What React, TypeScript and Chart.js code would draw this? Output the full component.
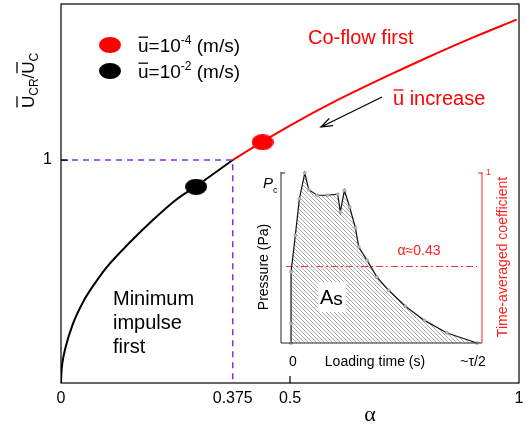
import React, { useEffect, useRef } from 'react';
import { Chart, registerables } from 'chart.js';

Chart.register(...registerables);

const SANS = '"Liberation Sans", Arial, sans-serif';
const SERIF = '"Liberation Serif", "Times New Roman", serif';

// Main chart data (alpha vs normalized critical velocity)
const alphaBlack = [0, 0.001, 0.003, 0.01, 0.025, 0.05, 0.075, 0.1, 0.15, 0.2, 0.25, 0.3, 0.375];
const ucrBlack = [0, 0.05, 0.09, 0.16, 0.26, 0.37, 0.45, 0.52, 0.63, 0.73, 0.82, 0.89, 1.0];
const alphaRed = [0.375, 0.45, 0.5, 0.6, 0.7, 0.8, 0.9, 0.995];
const ucrRed = [1.0, 1.095, 1.155, 1.265, 1.365, 1.46, 1.55, 1.63];
const dashX = [0, 0.375, 0.375];
const dashY = [1, 1, 0];
const markerRed = { x: 0.44, y: 1.08 };
const markerBlack = { x: 0.295, y: 0.88 };
const xTickVals = [0, 0.375, 0.5, 1];
const yTickVals = [1];

// Inset data (normalized loading time vs normalized pressure)
const loadTime = [0, 0, 0, 0.023, 0.045, 0.074, 0.095, 0.14, 0.197, 0.251, 0.265, 0.287, 0.315, 0.346, 0.364, 0.409, 0.462, 0.525, 0.615, 0.717, 0.839, 1.0];
const pressure = [0, 0.114, 0.418, 0.633, 0.849, 1.0, 0.902, 0.869, 0.869, 0.875, 0.771, 0.898, 0.8, 0.678, 0.565, 0.486, 0.388, 0.31, 0.216, 0.133, 0.059, 0];
const coefLineX = [-0.027, 1.0];
const coefLineY = [0.45, 0.45];

type Part = { t: string; size: number; dy?: number; over?: number; italic?: boolean; family?: string };

function drawRich(ctx: CanvasRenderingContext2D, x: number, y: number, parts: Part[], color: string) {
  let cx = x;
  ctx.textAlign = 'left';
  ctx.textBaseline = 'alphabetic';
  for (const p of parts) {
    ctx.font = `${p.italic ? 'italic ' : ''}${p.size}px ${p.family || SANS}`;
    ctx.fillStyle = color;
    const yy = y + (p.dy || 0);
    ctx.fillText(p.t, cx, yy);
    const w = ctx.measureText(p.t).width;
    if (p.over) {
      ctx.strokeStyle = color;
      ctx.lineWidth = 1.3;
      ctx.beginPath();
      const oy = yy - p.size * p.over;
      ctx.moveTo(cx + 0.5, oy);
      ctx.lineTo(cx + w - 0.5, oy);
      ctx.stroke();
    }
    cx += w;
  }
  return cx - x;
}

function ellipseImage(color: string, w: number, h: number) {
  const c = document.createElement('canvas');
  c.width = w;
  c.height = h;
  const g = c.getContext('2d')!;
  g.fillStyle = color;
  g.beginPath();
  g.ellipse(w / 2, h / 2, w / 2, h / 2, 0, 0, Math.PI * 2);
  g.fill();
  return c;
}

const mainPlugin = {
  id: 'mainDecor',
  afterDraw(chart: any) {
    const ctx: CanvasRenderingContext2D = chart.ctx;
    const { left, right, top, bottom } = chart.chartArea;
    const xs = chart.scales.x;
    const ys = chart.scales.y;
    ctx.save();
    // frame
    ctx.strokeStyle = '#000';
    ctx.lineWidth = 1.2;
    ctx.strokeRect(left, top, right - left, bottom - top);
    // inner ticks
    ctx.beginPath();
    const x05 = xs.getPixelForValue(0.5);
    ctx.moveTo(x05, bottom);
    ctx.lineTo(x05, bottom - 7);
    const y1 = ys.getPixelForValue(1);
    ctx.moveTo(left, y1);
    ctx.lineTo(left + 7, y1);
    ctx.stroke();

    // y-axis title (rotated)
    ctx.save();
    ctx.translate(34, 108);
    ctx.rotate(-Math.PI / 2);
    drawRich(ctx, 0, 0, [
      { t: 'U', size: 17, over: 1.0 },
      { t: 'CR', size: 12, dy: 4 },
      { t: '/', size: 17 },
      { t: 'U', size: 17, over: 1.0 },
      { t: 'C', size: 12, dy: 4 },
    ], '#000');
    ctx.restore();

    // x-axis title
    ctx.font = `22px ${SERIF}`;
    ctx.fillStyle = '#000';
    ctx.textAlign = 'center';
    ctx.textBaseline = 'alphabetic';
    ctx.fillText('α', 370, 421);

    // legend
    const red = '#ff0000';
    ctx.fillStyle = red;
    ctx.beginPath();
    ctx.ellipse(110, 45, 11, 8, 0, 0, Math.PI * 2);
    ctx.fill();
    ctx.fillStyle = '#000';
    ctx.beginPath();
    ctx.ellipse(110, 71, 11, 8, 0, 0, Math.PI * 2);
    ctx.fill();
    drawRich(ctx, 138, 52, [
      { t: 'u', size: 19, over: 0.78 },
      { t: '=10', size: 19 },
      { t: '-4', size: 12, dy: -8 },
      { t: ' (m/s)', size: 19 },
    ], '#000');
    drawRich(ctx, 138, 78, [
      { t: 'u', size: 19, over: 0.78 },
      { t: '=10', size: 19 },
      { t: '-2', size: 12, dy: -8 },
      { t: ' (m/s)', size: 19 },
    ], '#000');

    // annotations
    drawRich(ctx, 308, 44, [{ t: 'Co-flow first', size: 20 }], red);
    drawRich(ctx, 393, 105, [
      { t: 'u', size: 20, over: 0.75 },
      { t: ' increase', size: 20 },
    ], red);
    drawRich(ctx, 113, 305, [{ t: 'Minimum', size: 20 }], '#000');
    drawRich(ctx, 113, 329, [{ t: 'impulse', size: 20 }], '#000');
    drawRich(ctx, 113, 353, [{ t: 'first', size: 20 }], '#000');

    // arrow
    const ax0 = 382, ay0 = 97, ax1 = 321, ay1 = 127;
    ctx.strokeStyle = '#000';
    ctx.lineWidth = 1.3;
    ctx.beginPath();
    ctx.moveTo(ax0, ay0);
    ctx.lineTo(ax1, ay1);
    const ang = Math.atan2(ay0 - ay1, ax0 - ax1);
    const hl = 12;
    ctx.moveTo(ax1 + hl * Math.cos(ang + 0.35), ay1 + hl * Math.sin(ang + 0.35));
    ctx.lineTo(ax1, ay1);
    ctx.lineTo(ax1 + hl * Math.cos(ang - 0.35), ay1 + hl * Math.sin(ang - 0.35));
    ctx.stroke();
    ctx.restore();
  },
};

const OX = 245;
const OY = 155;

const insetPlugin = {
  id: 'insetDecor',
  afterDraw(chart: any) {
    const ctx: CanvasRenderingContext2D = chart.ctx;
    const { left, right, top, bottom } = chart.chartArea;
    const red = '#ff2020';
    ctx.save();
    // As label box
    ctx.fillStyle = '#fff';
    ctx.fillRect(318 - OX, 282 - OY, 28, 30);
    drawRich(ctx, 320 - OX, 304 - OY, [
      { t: 'A', size: 20 },
      { t: 's', size: 19, dy: 1 },
    ], '#000');

    // axes
    ctx.lineWidth = 1;
    ctx.strokeStyle = '#222';
    ctx.beginPath();
    ctx.moveTo(left, top - 1);
    ctx.lineTo(left, bottom);
    ctx.lineTo(right, bottom);
    ctx.moveTo(left, top);
    ctx.lineTo(left + 4, top);
    ctx.stroke();
    ctx.strokeStyle = red;
    ctx.beginPath();
    ctx.moveTo(right, top - 1);
    ctx.lineTo(right, bottom);
    ctx.moveTo(right, top);
    ctx.lineTo(right - 4, top);
    ctx.stroke();

    // right tick label
    ctx.fillStyle = red;
    ctx.font = `9px ${SANS}`;
    ctx.textAlign = 'left';
    ctx.textBaseline = 'middle';
    ctx.fillText('1', right + 4, top);

    // Pc
    drawRich(ctx, 263 - OX, 188 - OY, [
      { t: 'P', size: 15, italic: true },
      { t: 'c', size: 9, dy: 5 },
    ], '#000');

    // Pressure (Pa)
    ctx.save();
    ctx.translate(268 - OX, 267 - OY);
    ctx.rotate(-Math.PI / 2);
    ctx.font = `14px ${SANS}`;
    ctx.fillStyle = '#000';
    ctx.textAlign = 'center';
    ctx.textBaseline = 'alphabetic';
    ctx.fillText('Pressure (Pa)', 0, 0);
    ctx.restore();

    // Time-averaged coefficient
    ctx.save();
    ctx.translate(507 - OX, 257 - OY);
    ctx.rotate(-Math.PI / 2);
    ctx.font = `14px ${SANS}`;
    ctx.fillStyle = red;
    ctx.textAlign = 'center';
    ctx.textBaseline = 'alphabetic';
    ctx.fillText('Time-averaged coefficient', 0, 0);
    ctx.restore();

    // bottom labels
    ctx.font = `14px ${SANS}`;
    ctx.fillStyle = '#000';
    ctx.textAlign = 'center';
    ctx.textBaseline = 'middle';
    ctx.fillText('0', 293 - OX, 362 - OY);
    ctx.fillText('Loading time (s)', 375 - OX, 362 - OY);
    ctx.fillText('~τ/2', 473 - OX, 362 - OY);

    // alpha label
    ctx.fillStyle = red;
    ctx.fillText('α≈0.43', 419 - OX, 251 - OY);
    ctx.restore();
  },
};

export default function App() {
  const mainRef = useRef<HTMLCanvasElement>(null);
  const insetRef = useRef<HTMLCanvasElement>(null);

  useEffect(() => {
    const mainCanvas = mainRef.current!;
    const insetCanvas = insetRef.current!;

    const zeroPad = (s: any) => {
      s.paddingLeft = 0;
      s.paddingRight = 0;
      s.paddingTop = 0;
      s.paddingBottom = 0;
    };

    const main = new Chart(mainCanvas, {
      type: 'line',
      data: {
        datasets: [
          {
            label: 'guide',
            data: dashX.map((x, i) => ({ x, y: dashY[i] })),
            borderColor: '#8a2be2',
            borderWidth: 1.5,
            borderDash: [6, 5],
            pointRadius: 0,
            fill: false,
          },
          {
            label: 'black',
            data: alphaBlack.map((x, i) => ({ x, y: ucrBlack[i] })),
            borderColor: '#000',
            borderWidth: 2,
            pointRadius: 0,
            cubicInterpolationMode: 'monotone',
            fill: false,
          },
          {
            label: 'red',
            data: alphaRed.map((x, i) => ({ x, y: ucrRed[i] })),
            borderColor: '#ff0000',
            borderWidth: 2,
            pointRadius: 0,
            cubicInterpolationMode: 'monotone',
            fill: false,
          },
          {
            label: 'u=1e-4',
            data: [markerRed],
            showLine: false,
            pointStyle: ellipseImage('#ff0000', 22, 16) as any,
            pointRadius: 11,
          },
          {
            label: 'u=1e-2',
            data: [markerBlack],
            showLine: false,
            pointStyle: ellipseImage('#000000', 22, 16) as any,
            pointRadius: 11,
          },
        ],
      } as any,
      options: {
        animation: false,
        responsive: false,
        events: [],
        layout: { autoPadding: false, padding: { top: 4, right: 8, left: 0, bottom: 0 } },
        plugins: { legend: { display: false }, tooltip: { enabled: false } },
        scales: {
          x: {
            type: 'linear',
            min: 0,
            max: 1,
            afterBuildTicks: (s: any) => {
              s.ticks = xTickVals.map((v) => ({ value: v }));
            },
            afterFit: (s: any) => {
              s.height = 47;
              zeroPad(s);
            },
            ticks: {
              callback: (v: any) => String(v),
              font: { family: SANS, size: 16 },
              color: '#000',
              padding: 6,
              maxRotation: 0,
              autoSkip: false,
            },
            grid: { display: false, drawTicks: false },
            border: { display: false },
          },
          y: {
            type: 'linear',
            min: 0,
            max: 1.7,
            afterBuildTicks: (s: any) => {
              s.ticks = yTickVals.map((v) => ({ value: v }));
            },
            afterFit: (s: any) => {
              s.width = 61;
              zeroPad(s);
            },
            ticks: {
              callback: (v: any) => String(v),
              font: { family: SANS, size: 16 },
              color: '#000',
              padding: 9,
            },
            grid: { display: false, drawTicks: false },
            border: { display: false },
          },
        },
      } as any,
      plugins: [mainPlugin],
    });

    // hatch pattern
    const tile = document.createElement('canvas');
    const s = 4;
    tile.width = s;
    tile.height = s;
    const g = tile.getContext('2d')!;
    g.strokeStyle = '#8c8c8c';
    g.lineWidth = 0.75;
    g.beginPath();
    g.moveTo(-1, -1);
    g.lineTo(s + 1, s + 1);
    g.moveTo(-1, s - 1);
    g.lineTo(1, s + 1);
    g.moveTo(s - 1, -1);
    g.lineTo(s + 1, 1);
    g.stroke();
    const pattern = insetCanvas.getContext('2d')!.createPattern(tile, 'repeat');

    const inset = new Chart(insetCanvas, {
      type: 'line',
      data: {
        datasets: [
          {
            label: 'pressure',
            data: loadTime.map((x, i) => ({ x, y: pressure[i] })),
            borderColor: '#111',
            borderWidth: 1.2,
            pointRadius: 1.6,
            pointBackgroundColor: '#bbb',
            pointBorderColor: '#888',
            pointBorderWidth: 0.5,
            fill: 'origin',
            backgroundColor: pattern,
            tension: 0,
            clip: 4,
          },
          {
            label: 'coef',
            data: coefLineX.map((x, i) => ({ x, y: coefLineY[i] })),
            yAxisID: 'y2',
            borderColor: '#ff3030',
            borderWidth: 1,
            borderDash: [7, 3, 2, 3],
            pointRadius: 0,
            fill: false,
          },
        ],
      } as any,
      options: {
        animation: false,
        responsive: false,
        events: [],
        layout: { autoPadding: false, padding: { left: 36, right: 35, top: 18, bottom: 32 } },
        plugins: { legend: { display: false }, tooltip: { enabled: false } },
        scales: {
          x: { type: 'linear', display: false, min: -0.054, max: 1.027 },
          y: { type: 'linear', display: false, min: 0, max: 1 },
          y2: { type: 'linear', display: false, min: 0, max: 1, position: 'right' },
        },
      } as any,
      plugins: [insetPlugin],
    });

    return () => {
      main.destroy();
      inset.destroy();
    };
  }, []);

  return (
    <div style={{ position: 'fixed', left: 0, top: 0, width: 527, height: 430, background: '#fff' }}>
      <canvas
        ref={mainRef}
        width={527}
        height={430}
        style={{ position: 'absolute', left: 0, top: 0, width: 527, height: 430 }}
      />
      <canvas
        ref={insetRef}
        width={272}
        height={220}
        style={{ position: 'absolute', left: OX, top: OY, width: 272, height: 220 }}
      />
    </div>
  );
}
